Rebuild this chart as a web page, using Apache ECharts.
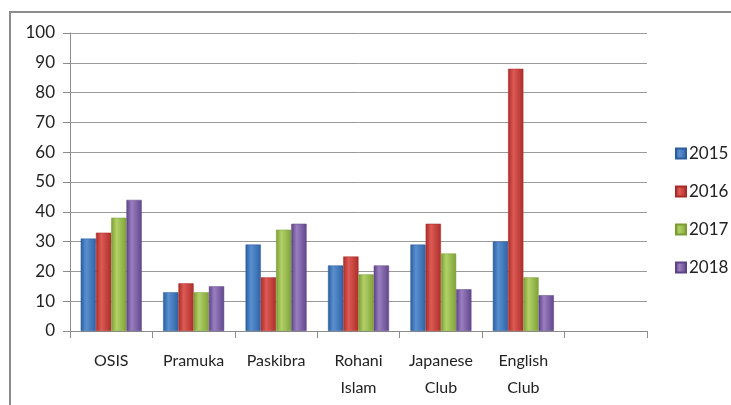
<!DOCTYPE html>
<html>
<head>
<meta charset="utf-8">
<script src="https://cdn.jsdelivr.net/npm/echarts@6/dist/echarts.min.js"></script>
<style>
html,body{margin:0;padding:0;background:#fff;}
#c{width:731px;height:405px;}
</style>
</head>
<body>
<div id="c"></div>
<script>
const categories = ['OSIS', 'Pramuka', 'Paskibra', 'Rohani\nIslam', 'Japanese\nClub', 'English\nClub', ''];
const seriesNames = ['2015', '2016', '2017', '2018'];
const v2015 = [31, 13, 29, 22, 29, 30, null];
const v2016 = [33, 16, 18, 25, 36, 88, null];
const v2017 = [38, 13, 34, 19, 26, 18, null];
const v2018 = [44, 15, 36, 22, 14, 12, null];
const yTicks = [0, 10, 20, 30, 40, 50, 60, 70, 80, 90, 100];

const values = [v2015, v2016, v2017, v2018];
const palettes = [
  ['#2b5c9c', '#5a90d0', '#2f62a4'],
  ['#a82b27', '#de5a55', '#ab2e2a'],
  ['#7a9c34', '#b2d268', '#7fa137'],
  ['#5c4385', '#9a7fc0', '#60478a']
];
const font = 'Lato, "Open Sans", sans-serif';

const chart = echarts.init(document.getElementById('c'));
chart.setOption({
  animation: false,
  backgroundColor: '#fff',
  graphic: [{
    type: 'rect', shape: { x: 10, y: 12, width: 740, height: 420 },
    style: { fill: 'none', stroke: '#8c8c8c', lineWidth: 2 }, silent: true, z: -1
  }],
  grid: { left: 70, right: 84, top: 33, bottom: 74, containLabel: false },
  legend: {
    orient: 'vertical', left: 670, top: 140, itemGap: 21,
    itemWidth: 10, itemHeight: 10, icon: 'rect',
    textStyle: { fontFamily: font, fontSize: 17, color: '#222', padding: [0, 0, 0, -2] },
    data: seriesNames
  },
  xAxis: {
    type: 'category', data: categories,
    axisLine: { lineStyle: { color: '#8c8c8c', width: 1 } },
    axisTick: { show: true, alignWithLabel: false, length: 7, lineStyle: { color: '#8c8c8c' } },
    axisLabel: { interval: 0, fontFamily: font, fontSize: 16, color: '#222', lineHeight: 27, margin: 16 }
  },
  yAxis: {
    type: 'value', min: yTicks[0], max: yTicks[yTicks.length - 1], interval: 10,
    axisLine: { show: true, lineStyle: { color: '#8c8c8c' } },
    axisTick: { show: true, length: 7, lineStyle: { color: '#8c8c8c' } },
    axisLabel: { fontFamily: font, fontSize: 17, color: '#222', margin: 15 },
    splitLine: { lineStyle: { color: '#9a9a9a', width: 1 } }
  },
  series: seriesNames.map((n, i) => ({
    name: n, type: 'bar', data: values[i],
    barGap: '0%', barCategoryGap: '26%',
    itemStyle: {
      color: new echarts.graphic.LinearGradient(0, 0, 1, 0, [
        { offset: 0, color: palettes[i][0] },
        { offset: 0.35, color: palettes[i][1] },
        { offset: 1, color: palettes[i][2] }
      ]),
      borderColor: palettes[i][0], borderWidth: 0.5
    }
  }))
});
</script>
</body>
</html>
